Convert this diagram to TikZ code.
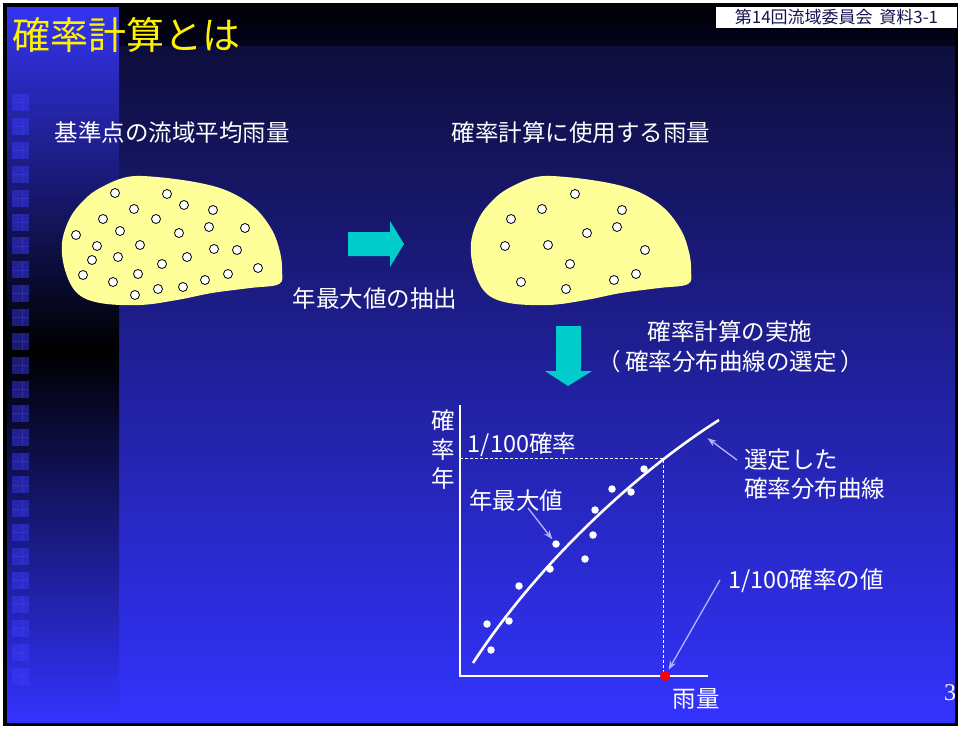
\documentclass[tikz,border=0pt]{standalone}
\usepackage{fontspec}
\setmainfont{Noto Sans CJK JP}
\newfontfamily\pagenumfont{Liberation Serif}
\usetikzlibrary{positioning,arrows.meta}

\definecolor{bandtop}{HTML}{000006}
\definecolor{bandbot}{HTML}{04041C}
\definecolor{slidetop}{HTML}{0E0E3C}
\definecolor{slidemid}{HTML}{2828C4}
\definecolor{slidebot}{HTML}{3333FF}
\definecolor{striptop}{HTML}{3434F0}
\definecolor{stripmid}{HTML}{2424B0}
\definecolor{tilecol}{HTML}{3C3CFF}
\definecolor{tileline}{HTML}{5050FF}
\definecolor{blobfill}{HTML}{FFFF99}
\definecolor{arrowcyan}{HTML}{00CCCC}
\definecolor{pointerblue}{HTML}{B4B4FF}
\definecolor{headtext}{HTML}{141450}

\begin{document}
\begin{tikzpicture}[x=1pt,y=-1pt,>={Stealth[length=9pt,width=6.5pt]},
    label text/.style={text=white,inner sep=0pt,font=\fontsize{23.5}{29}\selectfont},
    title text/.style={text=yellow,inner sep=0pt,font=\fontsize{38}{44}\selectfont},
    block arrow/.style={fill=arrowcyan,draw=none},
    area dot/.style={circle,draw=black,fill=white,line width=0.8pt,inner sep=0pt,minimum size=9pt},
    data dot/.style={circle,fill=white,inner sep=0pt,minimum size=7.5pt},
    pointer/.style={->,draw=pointerblue,fill=pointerblue,line width=1.3pt,shorten >=2pt},
    graph axis/.style={draw=white,line width=2.6pt},
    prob curve/.style={draw=white,line width=2.6pt},
    guide/.style={draw=white,line width=0.8pt,dash pattern=on 3pt off 2pt}]

    \useasboundingbox (0,0) rectangle (960,731);
    \fill[white] (0,0) rectangle (960,731);

    % slide background
    \fill[black] (3,3) rectangle (958,726);
    \shade[top color=bandtop,bottom color=bandbot] (7,7) rectangle (955,46);
    \shade[top color=slidetop,middle color=slidemid,bottom color=slidebot] (7,46) rectangle (955,722);
    \shade[top color=striptop,middle color=stripmid,bottom color=black] (7,7) rectangle (119,350);
    \shade[top color=black,middle color=stripmid,bottom color=slidebot] (7,350) rectangle (119,722);
    \foreach \k in {0,...,24}{
        \fill[tilecol,opacity=0.45] (12,{94+23.9*\k}) rectangle ++(17,17);
        \draw[tileline,opacity=0.3,line width=0.6pt] (22,{94+23.9*\k}) -- ++(0,17) (12,{102.5+23.9*\k}) -- ++(17,0);
    }

    \node[title text,anchor=west] (title) at (12,35) {確率計算とは};
    \node[fill=white,inner sep=0pt,minimum width=241pt,minimum height=21pt,text=headtext,font=\fontsize{17}{20}\selectfont] (hdr) at (836.5,17.5) {第14回流域委員会\, 資料3-1};

    % basins
    \foreach \dx in {0,409}{
        \fill[blobfill,xshift=\dx pt] plot[smooth cycle,tension=0.6] coordinates {(62,243) (70,218) (84,200) (100,188) (127,177) (157,177) (200,183) (230,192) (255,208) (272,230) (280,252) (282,270) (279,284) (250,288) (212,293) (177,300) (140,305) (100,303) (77,293) (65,270)};
    }
    \foreach \p [count=\i] in {(115,193),(167,194),(134,209),(184,205),(213,210),(103,219),(156,219),(120,231),(179,233),(209,227),(245,228),(76,235),(97,246),(140,245),(214,249),(237,250),(92,260),(118,257),(162,264),(187,257),(258,268),(83,275),(113,282),(138,274),(205,280),(228,274),(135,295),(158,289),(183,287)}
        \node[area dot] (a\i) at \p {};
    \foreach \p [count=\i] in {(575,194),(542,209),(622,210),(511,219),(617,227),(587,233),(505,246),(548,245),(645,250),(570,264),(636,274),(521,282),(614,280),(566,289)}
        \node[area dot] (b\i) at \p {};

    \node[label text] (src) at (172,133) {基準点の流域平均雨量};
    \node[label text] (dst) at (581,133) {確率計算に使用する雨量};

    \fill[block arrow] (348,232) -- (390,232) -- (390,221) -- (404,244) -- (390,267) -- (390,256) -- (348,256) -- cycle;
    \node[label text] (ext) at (375,299) {年最大値の抽出};

    \fill[block arrow] (556,326) -- (581,326) -- (581,371) -- (592,371) -- (568,386) -- (545,371) -- (556,371) -- cycle;
    \node[label text] (calc) at (730,332) {確率計算の実施};
    \node[label text] (sel) at (731,362) {（\,確率分布曲線の選定\,）};

    % frequency graph
    \coordinate (ytop) at (460,405);
    \coordinate (orig) at (460,676);
    \coordinate (xend) at (708,676);
    \coordinate (q) at (663,458);
    \coordinate (qy) at (460,458);
    \coordinate (qx) at (663,676);
    \draw[guide] (qy) -- (q) -- (qx);
    \draw[graph axis] (ytop) -- (orig) -- (xend);

    \coordinate (cstart) at (473,663);
    \coordinate (cend) at (719,420);
    \draw[prob curve] (cstart) .. controls (540,560) and (640,470) .. (cend);

    \foreach \p [count=\i] in {(487,624),(491,650),(509,621),(519,586),(550,569),(556,544),(585,559),(593,535),(595,510),(612,489),(631,492),(644,469)}
        \node[data dot] (d\i) at \p {};
    \node[circle,fill=red,inner sep=0pt,minimum size=10pt] (rv) at (665,676) {};

    \node[label text] (g1) at (443,421) {確};
    \node[label text] (g2) at (443,450) {率};
    \node[label text] (g3) at (443,479) {年};
    \node[label text] (p100) at (522,445) {1/100確率};
    \node[label text] (amax) at (516,501) {年最大値};
    \node[label text,align=left,anchor=north west] (curvelbl) at (744,449) {選定した\\確率分布曲線};
    \node[label text] (qval) at (806,581) {1/100確率の値};
    \node[label text] (rain) at (696,699) {雨量};
    \node[text=white,inner sep=0pt,font=\pagenumfont\fontsize{24}{28}\selectfont] (pg) at (950,693) {3};

    \coordinate (amaxtail) at (528,508);
    \coordinate (curvetail) at (737,460);
    \coordinate (curvept) at (706,437);
    \coordinate (qvaltail) at (720,580);
    \draw[pointer] (amaxtail) -- (d6);
    \draw[pointer] (curvetail) -- (curvept);
    \draw[pointer] (qvaltail) -- (rv);

\end{tikzpicture}
\end{document}
